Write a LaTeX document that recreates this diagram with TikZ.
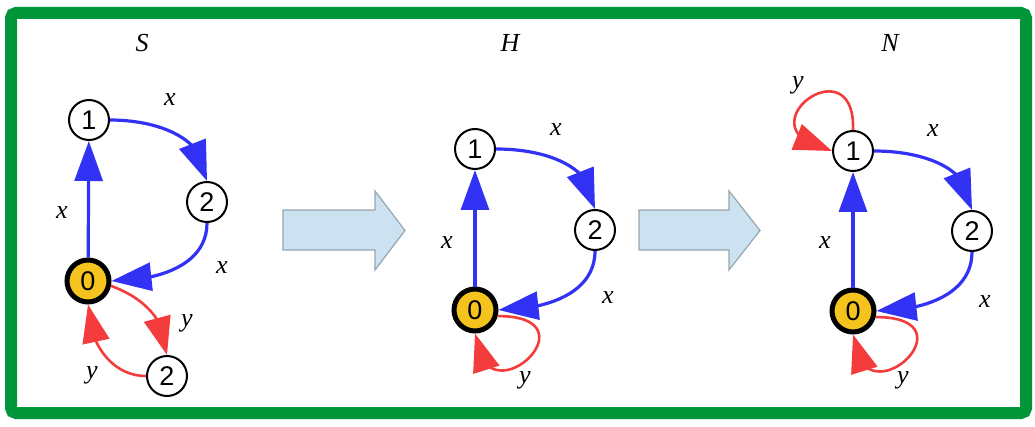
\documentclass[tikz,border=0pt]{standalone}
\usepackage{fontspec}
\setmainfont{Liberation Serif}
\setsansfont{Liberation Sans}
\usetikzlibrary{arrows.meta,bending}
\definecolor{edgeblue}{RGB}{50,50,245}
\definecolor{edgered}{RGB}{245,60,60}
\definecolor{framegreen}{RGB}{0,150,57}
\definecolor{zerofill}{RGB}{245,195,30}
\definecolor{blockfill}{RGB}{205,226,240}
\definecolor{blockdraw}{RGB}{150,165,175}

\begin{document}
\begin{tikzpicture}[x=1pt,y=1pt,
  vtx/.style={circle,draw,line width=2pt,minimum size=40pt,inner sep=0pt,fill=white,
    font=\sffamily\fontsize{27}{27}\selectfont},
  zero/.style={vtx,fill=zerofill,line width=5pt,minimum size=42pt},
  lbl/.style={inner sep=0pt,font=\fontsize{26}{28}\selectfont\itshape},
  xedge/.style={draw=edgeblue,line width=3.2pt,-{Triangle[length=40pt,width=28pt]}},
  yedge/.style={draw=edgered,line width=2.6pt,-{Triangle[length=38pt,width=27pt]}},
  block/.style={fill=blockfill,draw=blockdraw,line width=1.2pt}]
\useasboundingbox (0,0) rectangle (1035,426);
\draw[framegreen,line width=12pt,rounded corners=5pt] (11,13) rectangle (1026,413);

% transition arrows
\draw[block] (283,176) -- (375,176) -- (375,156) -- (405,195.5) -- (375,235)
  -- (375,216) -- (283,216) -- cycle;
\draw[block] (639,176) -- (729,176) -- (729,156) -- (760,195.5) -- (729,235)
  -- (729,216) -- (639,216) -- cycle;

% S
\node[lbl] (tS) at (142,383) {S};
\node[vtx] (s1) at (89,306) {1};
\node[vtx] (s2) at (207,224) {2};
\node[zero] (s0) at (88,145) {0};
\node[vtx] (s3) at (167,50) {2};
\draw[xedge] (s0) -- (s1);
\draw[xedge] (s1.east) to[out=0,in=90] (s2.north);
\draw[xedge] (s2.south) to[out=-90,in=0] (s0.east);
\draw[yedge] (s0.-12) to[out=-20,in=90] (s3.north);
\draw[yedge] (s3.west) to[out=180,in=-90] (s0.south);
\node[lbl] (sa) at (62,213) {x};
\node[lbl] (sb) at (170,326) {x};
\node[lbl] (sc) at (222,158) {x};
\node[lbl] (sd) at (187,103) {y};
\node[lbl] (se) at (92,51) {y};

% H
\node[lbl] (tH) at (510,383) {H};
\node[vtx] (h1) at (475,277) {1};
\node[vtx] (h2) at (595,196) {2};
\node[zero] (h0) at (475,116) {0};
\draw[xedge] (h0) -- (h1);
\draw[xedge] (h1.east) to[out=0,in=90] (h2.north);
\draw[xedge] (h2.south) to[out=-90,in=0] (h0.east);
\draw[yedge] (h0.-15) .. controls (600,110) and (482,0) .. (h0.south);
\node[lbl] (ha) at (447,183) {x};
\node[lbl] (hb) at (556,296) {x};
\node[lbl] (hc) at (608,128) {x};
\node[lbl] (hd) at (525,46) {y};

% N
\node[lbl] (tN) at (890,383) {N};
\node[vtx] (n1) at (853,275) {1};
\node[vtx] (n2) at (972,195) {2};
\node[zero] (n0) at (853,115) {0};
\draw[xedge] (n0) -- (n1);
\draw[xedge] (n1.east) to[out=0,in=90] (n2.north);
\draw[xedge] (n2.south) to[out=-90,in=0] (n0.east);
\draw[yedge] (n0.-15) .. controls (978,109) and (860,-1) .. (n0.south);
\draw[yedge] (n1.north) .. controls (856,385) and (735,295) .. (n1.west);
\node[lbl] (na) at (825,183) {x};
\node[lbl] (nb) at (933,295) {x};
\node[lbl] (nc) at (985,124) {x};
\node[lbl] (nd) at (798,341) {y};
\node[lbl] (ne) at (903,46) {y};
\end{tikzpicture}
\end{document}
